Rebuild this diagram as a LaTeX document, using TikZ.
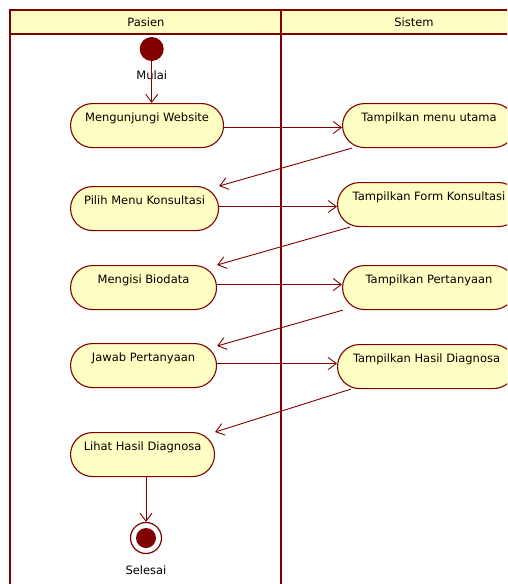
\documentclass[tikz,border=0pt]{standalone}
\usepackage{fontspec}
\setmainfont{DejaVu Sans}
\usetikzlibrary{arrows.meta,positioning}
\definecolor{umlred}{HTML}{800000}
\definecolor{umlfill}{HTML}{FFFFC4}
\tikzset{lanebox/.style={draw=umlred,line width=2.8pt},
    lanetitle/.style={font=\fontsize{11.5}{13}\selectfont},
    activity/.style={draw=umlred,fill=umlfill,line width=1.1pt,rectangle,rounded corners=22pt,
        anchor=north west,minimum height=44pt,inner ysep=4pt,inner xsep=0pt,
        text height=14pt,text depth=22pt,font=\fontsize{11.5}{13}\selectfont},
    flow/.style={draw=umlred,line width=0.9pt,-{Straight Barb[length=8pt,width=12pt]}},
    startnode/.style={circle,fill=umlred,inner sep=0,minimum size=24pt},
    endnode/.style={circle,draw=umlred,fill=white,line width=1.2pt,inner sep=0,minimum size=31pt}
}

\begin{document}
\begin{tikzpicture}[x=1pt,y=-1pt]

\useasboundingbox (0,0) rectangle (507,584);
\clip (0,0) rectangle (507,584);

%% swimlanes
\fill [umlfill] (10,10) rectangle (547,34);
\draw [lanebox] (10,600) -- (10,10) -- (547,10) -- (547,600);
\draw [lanebox] (10,34) -- (547,34);
\draw [lanebox] (281,10) -- (281,600);
\node (pasien) at (146,22) [lanetitle] {Pasien};
\node (sistem) at (414,22) [lanetitle] {Sistem};

%% pasien
\node (mulai) at (151.7,49) [startnode,label={[lanetitle,label distance=6pt]below:Mulai}] {};

\node (kunjungi) at (70,103) [activity,minimum width=153pt] {Mengunjungi Website};
\node (pilih) at (70,186) [activity,minimum width=148pt] {Pilih Menu Konsultasi};
\node (biodata) at (70,265) [activity,minimum width=146pt] {Mengisi Biodata};
\node (jawab) at (70,343) [activity,minimum width=146pt] {Jawab Pertanyaan};
\node (lihat) at (70,432) [activity,minimum width=144pt] {Lihat Hasil Diagnosa};

\node (selesai) at (146,538) [endnode,label={[lanetitle,label distance=8pt]below:Selesai}] {};
\fill [umlred] (selesai.center) circle (10);

%% sistem
\node (menu) at (342,103) [activity,minimum width=173pt] {Tampilkan menu utama};
\node (form) at (337,182) [activity,minimum width=183pt] {Tampilkan Form Konsultasi};
\node (tanya) at (342,265) [activity,minimum width=173pt] {Tampilkan Pertanyaan};
\node (hasil) at (337,344) [activity,minimum width=178pt] {Tampilkan Hasil Diagnosa};

%% flows
\draw [flow] (mulai) -- (mulai |- kunjungi.north);
\draw [flow] ([yshift=-2pt]kunjungi.east) -- ([yshift=-2pt]kunjungi.east -| menu.west);
\draw [flow] ([xshift=10pt]menu.south west) -- (pilih.north east);
\draw [flow] ([yshift=2pt]pilih.east) -- ([yshift=2pt]pilih.east -| form.west);
\draw [flow] ([xshift=13pt]form.south west) -- (biodata.north east);
\draw [flow] ([yshift=3pt]biodata.east) -- ([yshift=3pt]biodata.east -| tanya.west);
\draw [flow] ([xshift=1pt]tanya.south west) -- ([yshift=-3pt]jawab.north east);
\draw [flow] ([yshift=2pt]jawab.east) -- ([yshift=2pt]jawab.east -| hasil.west);
\draw [flow] ([xshift=14pt]hasil.south west) -- (lihat.north east);
\draw [flow] (lihat.south -| selesai) -- (selesai);

\end{tikzpicture}
\end{document}
